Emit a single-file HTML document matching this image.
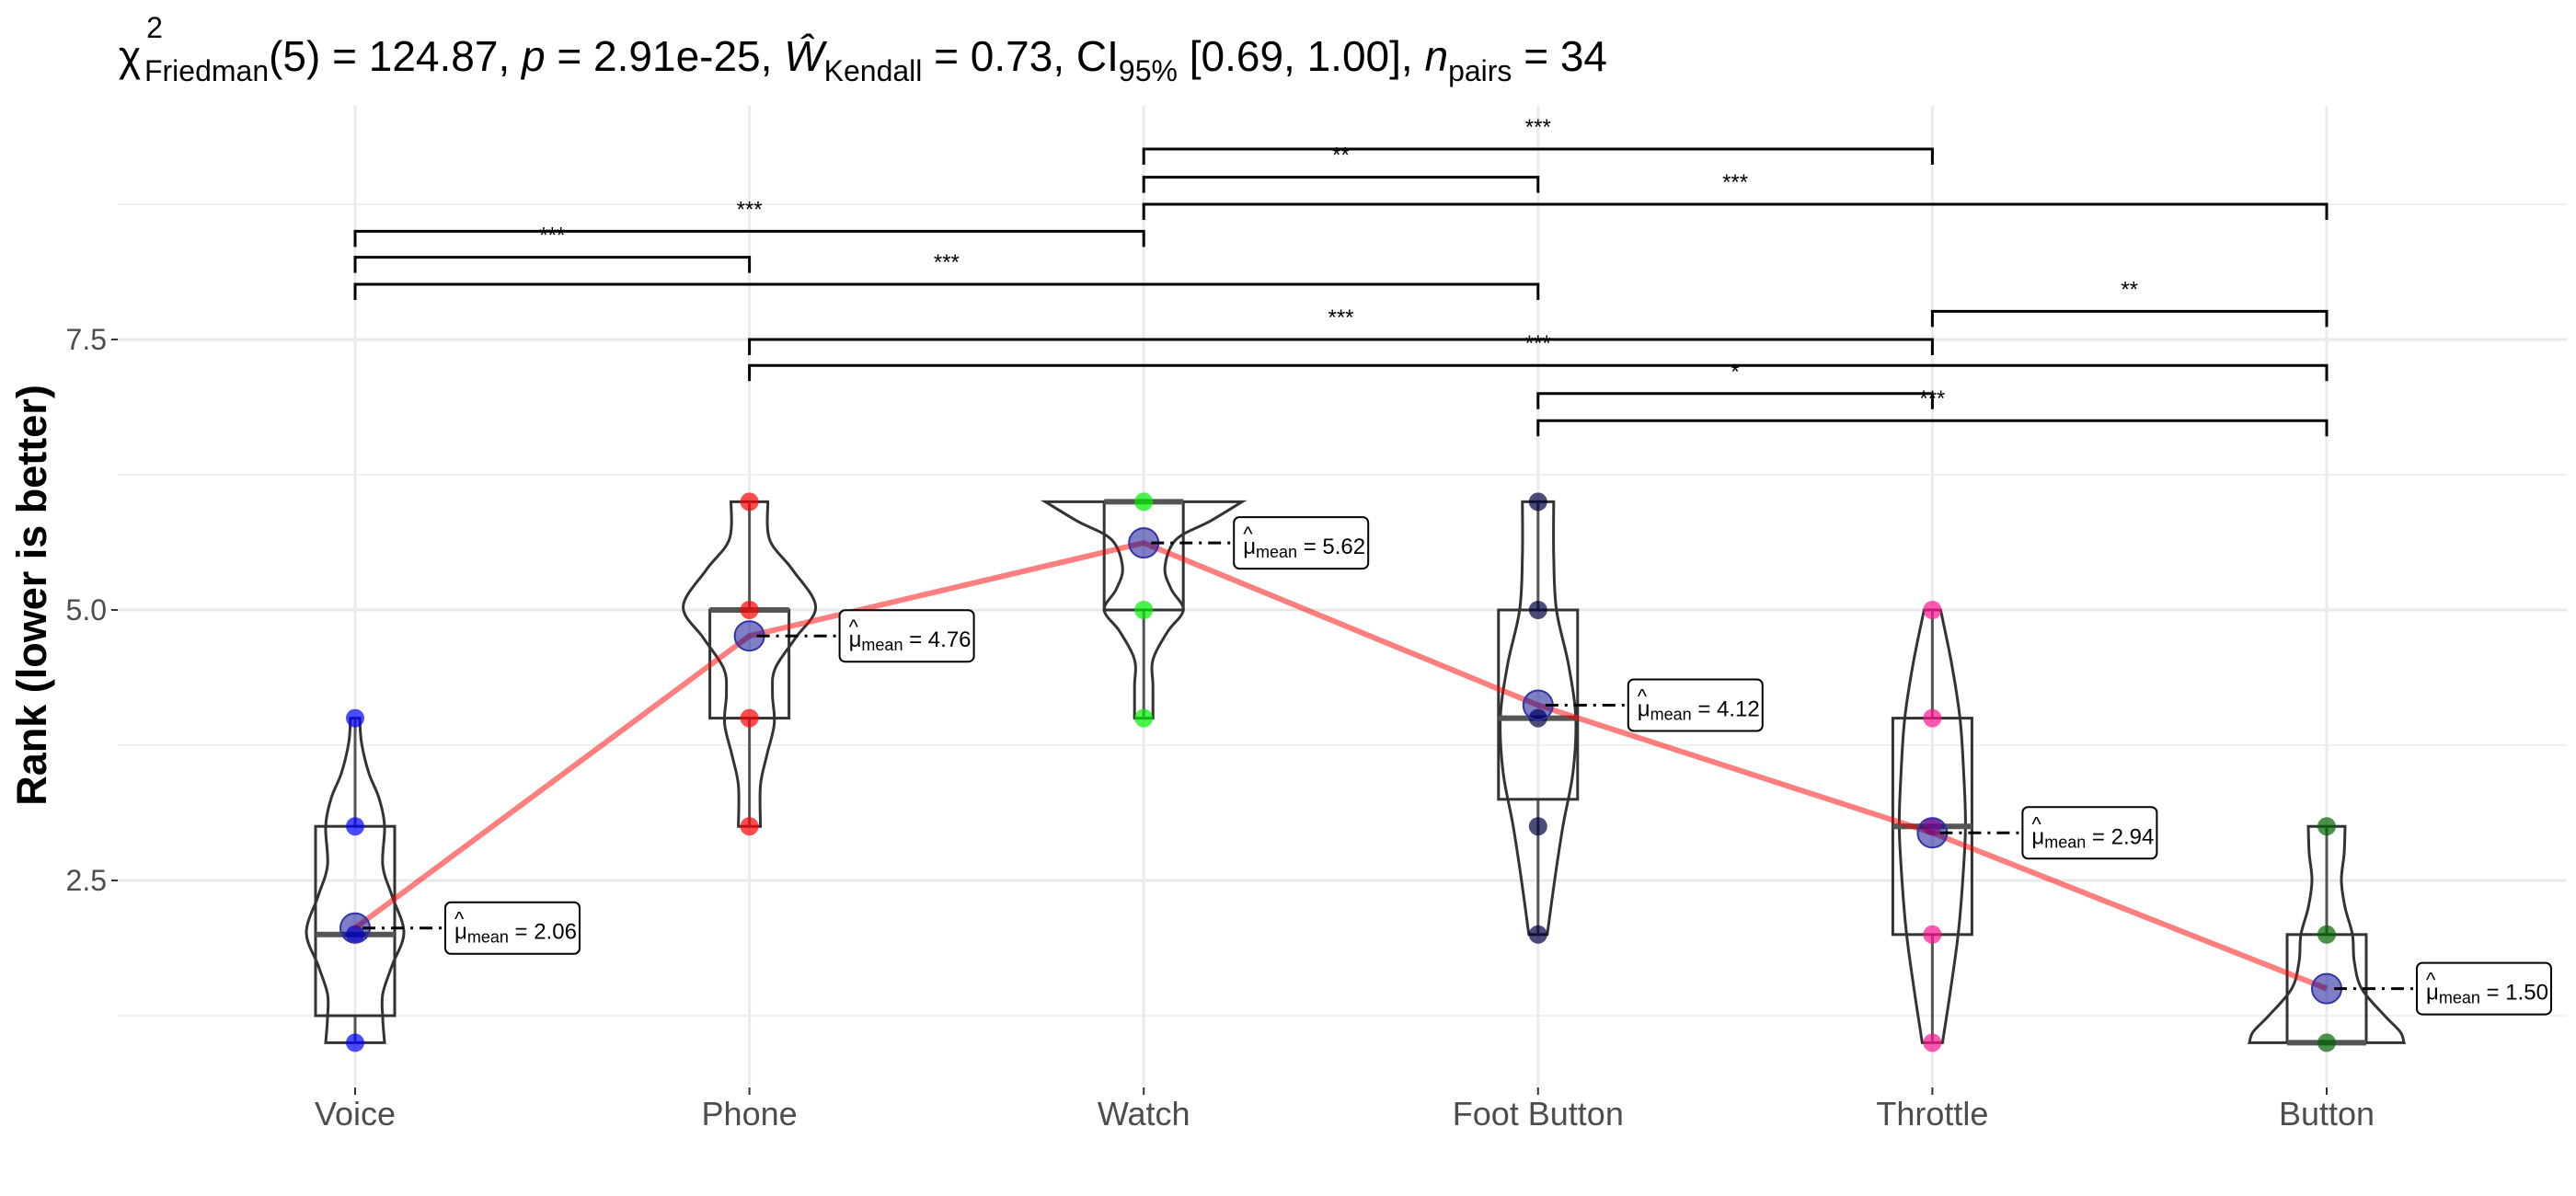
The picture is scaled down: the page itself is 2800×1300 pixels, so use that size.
<!DOCTYPE html>
<html><head><meta charset="utf-8"><style>
html,body{margin:0;padding:0;background:#fff;}
svg{display:block;font-family:"Liberation Sans",Arial,sans-serif;}
</style></head><body>
<svg id="chart" width="2800" height="1300" viewBox="0 0 2800 1300" xmlns="http://www.w3.org/2000/svg">
  <text x="129" y="77" font-size="46" fill="#000"><tspan>χ</tspan><tspan font-size="32" dy="-36" dx="6">2</tspan><tspan font-size="32" dy="47" dx="-20">Friedman</tspan><tspan dy="-11">(5) = 124.87, </tspan><tspan font-style="italic">p</tspan><tspan> = 2.91e-25, </tspan><tspan font-style="italic">Ŵ</tspan><tspan font-size="32" dy="11">Kendall</tspan><tspan dy="-11"> = 0.73, CI</tspan><tspan font-size="32" dy="11">95%</tspan><tspan dy="-11"> [0.69, 1.00], </tspan><tspan font-style="italic">n</tspan><tspan font-size="32" dy="11">pairs</tspan><tspan dy="-11"> = 34</tspan></text>
  <text transform="translate(50,647) rotate(-90)" text-anchor="middle" font-size="45" font-weight="bold" fill="#000">Rank (lower is better)</text>
  <g id="grid"></g>
  <g id="axes"></g>
  <g id="plot"></g>
</svg>
<script>
const categories = ["Voice","Phone","Watch","Foot Button","Throttle","Button"];
const colors = ["#0000FF","#FF0000","#00EE00","#000040","#FF1493","#006400"];
const means = [2.06,4.76,5.62,4.12,2.94,1.50];
const boxQ1 = [1.25,4,5,3.25,2,1];
const boxMed = [2,5,6,4,3,1];
const boxQ3 = [3,5,6,5,4,2];
const whiskLo = [1,3,4,2,1,1];
const whiskHi = [4,6,6,6,5,3];
const pointsVals = [[1,2,3,4],[3,4,5,6],[4,5,6],[2,3,4,5,6],[1,2,3,4,5],[1,2,3]];
const violinLevels = [
  [4,3.77,3.49,3.26,3,2.64,2.36,2.02,1.71,1.45,1.23,1],
  [6,5.65,5.37,5.03,4.74,4.46,4.23,3.95,3.66,3.38,3],
  [6,5.82,5.65,5.39,5.19,5,4.8,4.54,4.3,4],
  [6,5.5,5,4.5,4,3.5,3,2.5,2],
  [5,4.5,4,3.5,3,2.5,2,1.5,1],
  [3,2.75,2.5,2.25,2,1.75,1.5,1.25,1.1,1]
];
const violinWidths = [
  [5,7,15,26,32,30,40,53,40,30,30,32],
  [20,22,47,72,50,28,25,27,19,12,12],
  [107,72,35,23,30,43,26,10,10,10],
  [17,17,20,33,41,38,27,18,10],
  [9,21,30,34,36,33,28,20,11],
  [20,19,16,20,28,30,38,63,80,84]
];
const sigPairs = [[2,4],[2,3],[2,5],[0,2],[0,1],[0,3],[4,5],[1,4],[1,5],[3,4],[3,5]];
const sigLabels = ["***","**","***","***","***","***","**","***","***","*","***"];
const sigLevels = [9.26,9.0,8.75,8.5,8.26,8.01,7.76,7.5,7.26,7.0,6.75];
const yTicks = [2.5,5.0,7.5];
const yTickLabels = ["2.5","5.0","7.5"];
const yMinor = [1.25,3.75,6.25,8.75];

const NS="http://www.w3.org/2000/svg";
const X0=386, DX=428.6, PL=128, PR=2790, PT=115, PB=1180;
function xs(i){return X0+DX*i;}
function ys(v){return 957-(v-2.5)*117.6;}
function mk(tag,attrs,parent){const e=document.createElementNS(NS,tag);for(const k in attrs)e.setAttribute(k,attrs[k]);parent.appendChild(e);return e;}
const grid=document.getElementById('grid'), axes=document.getElementById('axes'), plot=document.getElementById('plot');

yMinor.forEach(v=>{const l=mk('line',{x1:PL,x2:PR,y1:ys(v),y2:ys(v),stroke:'#f0f0f0','stroke-width':2},grid);

});
yTicks.forEach((v,k)=>{const l=mk('line',{x1:PL,x2:PR,y1:ys(v),y2:ys(v),stroke:'#e8e8e8','stroke-width':3},grid);


const t=mk('line',{x1:121,x2:128,y1:ys(v),y2:ys(v),stroke:'#333','stroke-width':2},axes);


const tx=mk('text',{x:116,y:ys(v)+11,'text-anchor':'end','font-size':32,fill:'#4d4d4d'},axes);tx.textContent=yTickLabels[k];

});
categories.forEach((c,i)=>{const l=mk('line',{x1:xs(i),x2:xs(i),y1:PT,y2:PB,stroke:'#ebebeb','stroke-width':3},grid);


const t=mk('line',{x1:xs(i),x2:xs(i),y1:1182,y2:1190,stroke:'#333','stroke-width':2},axes);


const tx=mk('text',{x:xs(i),y:1223,'text-anchor':'middle','font-size':36,fill:'#4d4d4d'},axes);tx.textContent=c;

});

function smoothPath(pts){let d='M'+pts[0][0]+','+pts[0][1];
for(let i=0;i<pts.length-1;i++){const p0=pts[Math.max(0,i-1)],p1=pts[i],p2=pts[i+1],p3=pts[Math.min(pts.length-1,i+2)];
const c1=[p1[0]+(p2[0]-p0[0])/6,p1[1]+(p2[1]-p0[1])/6],c2=[p2[0]-(p3[0]-p1[0])/6,p2[1]-(p3[1]-p1[1])/6];
d+=' C'+c1[0].toFixed(1)+','+c1[1].toFixed(1)+' '+c2[0].toFixed(1)+','+c2[1].toFixed(1)+' '+p2[0].toFixed(1)+','+p2[1].toFixed(1);}
return d;}

categories.forEach((c,i)=>{
  const cx=xs(i);
  const g=mk('g',{},plot);
  
  
  const L=violinLevels[i],W=violinWidths[i];
  const left=L.map((v,k)=>[cx-W[k],ys(v)]);
  const right=L.map((v,k)=>[cx+W[k],ys(v)]).reverse();
  let d=smoothPath(left)+' L'+right[0][0]+','+right[0][1]+smoothPath(right).replace(/^M[^ ]+/,'')+' Z';
  const vp=mk('path',{d:d,fill:'none',stroke:'#333','stroke-width':3},g);
  
  
  const w1=mk('line',{x1:cx,x2:cx,y1:ys(whiskHi[i]),y2:ys(boxQ3[i]),stroke:'#555','stroke-width':3},g);
  
  
  const w2=mk('line',{x1:cx,x2:cx,y1:ys(boxQ1[i]),y2:ys(whiskLo[i]),stroke:'#555','stroke-width':3},g);
  
  
  const bx=mk('rect',{x:cx-43,y:ys(boxQ3[i]),width:86,height:Math.max(0.5,ys(boxQ1[i])-ys(boxQ3[i])),fill:'none',stroke:'#333','stroke-width':3},g);
  
  
  const md=mk('line',{x1:cx-43,x2:cx+43,y1:ys(boxMed[i]),y2:ys(boxMed[i]),stroke:'#555','stroke-width':6},g);
  
  
  pointsVals[i].forEach(v=>{const p=mk('circle',{cx:cx,cy:ys(v),r:10,fill:colors[i],'fill-opacity':0.7},g);
  
  });
});

const mp=categories.map((c,i)=>xs(i)+','+ys(means[i])).join(' ');
const ml=mk('polyline',{points:mp,fill:'none',stroke:'#FF0000','stroke-opacity':0.5,'stroke-width':6},plot);



categories.forEach((c,i)=>{
  const cx=xs(i), cy=ys(means[i]);
  const g=mk('g',{},plot);
  
  
  const mc=mk('circle',{cx:cx,cy:cy,r:16,fill:'#00008B','fill-opacity':0.5,stroke:'#3333aa','stroke-width':2},g);
  
  
  const bl=cx+98;
  const dl=mk('line',{x1:cx+8,x2:bl,y1:cy,y2:cy,stroke:'#000','stroke-width':3,'stroke-dasharray':'14 7 3 7'},g);
  
  
  const r=mk('rect',{x:bl,y:cy-28,width:146,height:56,rx:6,fill:'#fff',stroke:'#000','stroke-width':2},g);
  
  
  const hat=mk('text',{x:bl+10,y:cy-2,'font-size':22,fill:'#000'},g);hat.textContent='^';
  
  
  const t=mk('text',{x:bl+10,y:cy+12,'font-size':24,fill:'#000'},g);
  
  
  t.innerHTML='μ<tspan font-size="18" dy="4">mean</tspan><tspan dy="-4"> = '+means[i].toFixed(2)+'</tspan>';
});

sigPairs.forEach((p,k)=>{
  const x1=xs(p[0]),x2=xs(p[1]),y=ys(sigLevels[k]);
  const g=mk('g',{},plot);
  
  
  mk('path',{d:`M${x1},${y+17} L${x1},${y} L${x2},${y} L${x2},${y+17}`,fill:'none',stroke:'#000','stroke-width':3},g);
  const t=mk('text',{x:(x1+x2)/2,y:y-16,'text-anchor':'middle','font-size':24,fill:'#000'},g);
  t.textContent=sigLabels[k];
  
  
});
</script>
</body></html>
